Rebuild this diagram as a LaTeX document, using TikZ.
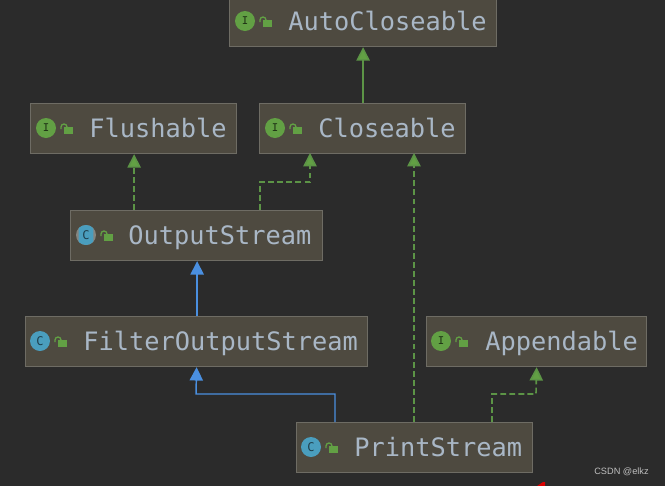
\documentclass[tikz,border=0pt]{standalone}
\usepackage{fontspec}
\setmainfont{Liberation Sans}
\newfontfamily\codefont{DejaVu Sans Mono}
\usetikzlibrary{arrows.meta,calc}
\definecolor{bgc}{HTML}{2B2B2B}
\definecolor{boxf}{HTML}{4E4A40}
\definecolor{boxd}{HTML}{6E6C64}
\definecolor{txtc}{HTML}{A9B7C6}
\definecolor{grn}{HTML}{62A044}
\definecolor{dashg}{HTML}{5C9446}
\definecolor{blu}{HTML}{4A8FE0}
\definecolor{cyn}{HTML}{4A9EBE}
\definecolor{halo}{HTML}{85857F}
\tikzset{
  x=0.75pt,y=-0.75pt,
  cbox/.style={draw=boxd,fill=boxf,line width=0.9pt,inner sep=0pt,anchor=north west},
  ctext/.style={font=\codefont\fontsize{19}{20}\selectfont,text=txtc,anchor=base west,inner sep=0pt},
  ifaceicon/.style={circle,fill=grn,minimum size=15pt,inner sep=0pt,font=\codefont\fontsize{8}{8}\selectfont,text=black!70!grn},
  classicon/.style={circle,fill=cyn,minimum size=15pt,inner sep=0pt,font=\codefont\fontsize{9}{9}\selectfont,text=black!60!cyn},
  haloicon/.style={classicon,fill=halo,path picture={\fill[cyn,rounded corners=3pt] ([xshift=2pt]path picture bounding box.south west) rectangle ([xshift=-2pt]path picture bounding box.north east);}},
  implarrow/.style={draw=dashg,line width=1.2pt,dash pattern=on 4.4pt off 2.4pt,-{Triangle[length=10pt,width=10pt,fill=grn]}},
  inhgreen/.style={draw=dashg,line width=1.1pt,-{Triangle[length=10pt,width=10pt,fill=grn]}},
  inharrow/.style={draw=blu,line width=1.1pt,-{Triangle[length=10pt,width=10pt,fill=blu]}}
}
\newcommand{\lockicon}[2]{%
  \fill[grn] ({#1+0},{#2-1}) rectangle ({#1+9},{#2+6});
  \draw[grn,line width=1pt] ({#1+3},{#2-1}) arc[start angle=0,end angle=-180,radius=3] -- ++(0,2);
}
% name, left, top, right, bottom, icon style, letter, icon x, text x; the label follows
\newcommand{\umlbox}[9]{%
  \node[cbox,minimum width=(#4-#2)*0.75pt,minimum height=(#5-#3)*0.75pt] (#1) at (#2,#3) {};
  \node[#6] (#1icon) at (#8,{(#3+#5)/2}) {#7};
  \lockicon{#8+18}{(#3+#5)/2}
  \node[ctext] (#1text) at (#9,{(#3+#5)/2+9})}
\begin{document}
\begin{tikzpicture}
\useasboundingbox (0,0) rectangle (665,486);
\fill[bgc] (0,0) rectangle (665,486);
\umlbox{auto}{229}{-4}{496}{46}{ifaceicon}{I}{245}{288}{AutoCloseable};
\umlbox{flush}{30}{103}{236}{153}{ifaceicon}{I}{46}{89}{Flushable};
\umlbox{close}{259}{103}{465}{153}{ifaceicon}{I}{275}{318}{Closeable};
\umlbox{out}{70}{210}{322}{260}{haloicon}{C}{86}{128}{OutputStream};
\umlbox{filter}{25}{316}{367}{366}{classicon}{C}{40}{83}{FilterOutputStream};
\umlbox{app}{426}{316}{646}{366}{ifaceicon}{I}{441}{485}{Appendable};
\umlbox{print}{296}{422}{532}{472}{classicon}{C}{311}{354}{PrintStream};
\coordinate (closeA) at (310,153);
\coordinate (closeB) at (414,153);
\coordinate (outR) at (260,210);
\coordinate (printA) at (335,422);
\coordinate (printB) at (414,422);
\coordinate (printC) at (492,422);
\coordinate (flushS) at ([xshift=0.4pt]flush.south);
\coordinate (outS) at ([xshift=0.4pt]out.south);
\draw[inhgreen] (close.north -| auto.south) -- (auto.south);
\draw[implarrow] (out.north -| flushS) -- (flushS);
\draw[implarrow] (outR) |- (310,182) -- (closeA);
\draw[implarrow] (printB) -- (closeB);
\draw[implarrow] (printC) |- (536,394) -- (app.south);
\draw[inharrow] (filter.north -| outS) -- (outS);
\draw[inharrow] (printA) |- (196,394) -- (filter.south);
\node[font=\fontsize{6.9}{8}\selectfont,text=white!75!black,inner sep=0pt] (wm) at (621.5,472) {CSDN @elkz};
\fill[red!85!black] (537,486) -- (543,482) -- (545,482) -- (545,486) -- cycle;
\end{tikzpicture}
\end{document}
